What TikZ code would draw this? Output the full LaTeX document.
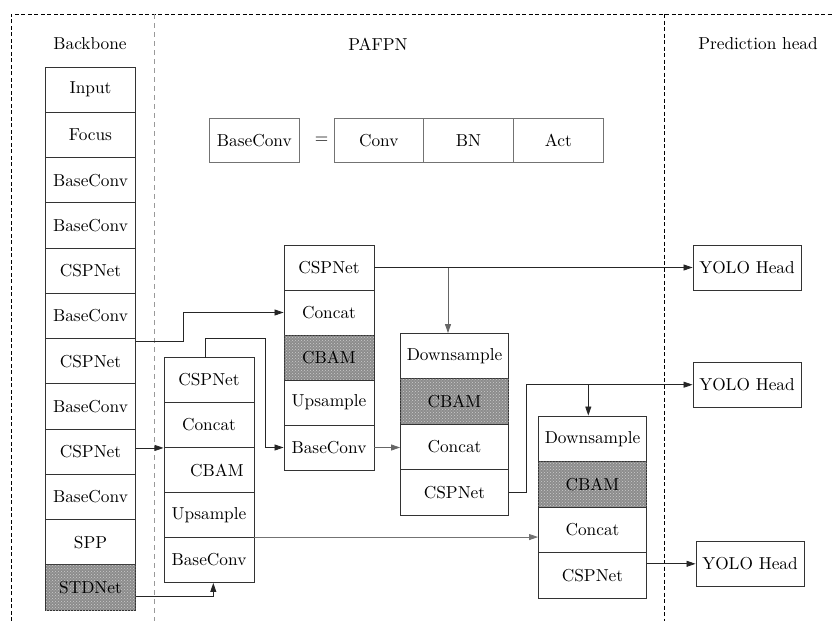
\documentclass[tikz,border=0pt]{standalone}
\usetikzlibrary{arrows.meta,patterns,calc}
% text face: the 10pt design of Latin Modern Roman, set large
\font\labelfont="[lmroman10-regular.otf]" at 17.3pt

\begin{document}
\begin{tikzpicture}[x=1pt,y=-1pt,
  font=\labelfont,
  cell/.style={draw=black!80, line width=0.9pt, inner sep=0pt, fill=white,
               minimum width=90pt, minimum height=45pt},
  wide/.style={minimum width=108pt},
  shade/.style={fill=black!45,
                postaction={pattern=crosshatch dots, pattern color=black!20}},
  head/.style={cell, minimum width=108pt, minimum height=45pt},
  formula/.style={cell, draw=black!55, minimum height=44.4pt},
  link/.style={draw=black!85, line width=0.8pt,
               -{Triangle[length=9pt,width=6pt]}},
  frame/.style={line width=0.8pt, dash pattern=on 4pt off 2.5pt},
  divider/.style={draw=black!40, line width=0.8pt, dash pattern=on 5pt off 4pt}]

\useasboundingbox (0,0) rectangle (833,621);

% section frames
\draw[frame] (11,621) -- (11,14) -- (833,14);
\draw[frame] (664,14) -- (664,621);
\draw[divider] (154,14) -- (154,621);

% section titles
\node (tb) at (90,44) {Backbone};
\node (tp) at (378,44) {PAFPN};
\node (th) at (758,44) {Prediction head};

% BaseConv definition
\node[formula] (bc) at (254.3,140.5) {BaseConv};
\node (eq) at (321.5,140.5) {=};
\node[formula, minimum width=89.7pt] (fc) at (378.8,140.5) {Conv};
\node[formula, minimum width=89.7pt] (fb) at (468.5,140.5) {BN};
\node[formula, minimum width=90pt] (fa) at (558.3,140.5) {Act};

% backbone stack
\foreach \t [count=\i] in {Input,Focus,BaseConv,BaseConv,CSPNet,BaseConv,
                           CSPNet,BaseConv,CSPNet,BaseConv,SPP}
  \node[cell, minimum height=45.25pt] (b\i) at (90.5,{67+45.25*(\i-0.5)}) {\t};
\node[cell, shade, minimum height=45.25pt] (b12) at (90.5,587.4) {STDNet};

% PAFPN stack 1
\node[cell] (p1) at (209,380) {CSPNet};
\node[cell] (p2) at (209,425) {Concat};
\node[cell] (p3) at (209,470) {\hspace*{16pt}CBAM};
\node[cell] (p4) at (209,515) {Upsample};
\node[cell] (p5) at (209,560) {BaseConv};

% PAFPN stack 2
\node[cell] (q1) at (329,267.5) {CSPNet};
\node[cell] (q2) at (329,312.5) {Concat};
\node[cell, shade] (q3) at (329,357.5) {CBAM};
\node[cell] (q4) at (329,402.5) {Upsample};
\node[cell] (q5) at (329,447.5) {BaseConv};

% PAFPN stack 3
\node[cell, wide, minimum height=45.4pt] (r1) at (454.5,356.2) {Downsample};
\node[cell, wide, minimum height=45.4pt, shade] (r2) at (454.5,401.6) {CBAM};
\node[cell, wide, minimum height=45.4pt] (r3) at (454.5,447) {Concat};
\node[cell, wide, minimum height=45.4pt] (r4) at (454.5,492.4) {CSPNet};

% PAFPN stack 4
\node[cell, wide, minimum height=45.5pt] (s1) at (592.5,438.75) {Downsample};
\node[cell, wide, minimum height=45.5pt, shade] (s2) at (592.5,484.25) {CBAM};
\node[cell, wide, minimum height=45.5pt] (s3) at (592.5,529.75) {Concat};
\node[cell, wide, minimum height=45.5pt] (s4) at (592.5,575.25) {CSPNet};

% prediction heads
\node[head] (h1) at (747,267.8) {YOLO Head};
\node[head] (h2) at (747,384.7) {YOLO Head};
\node[head] (h3) at (750,563.8) {YOLO Head};

% connectors
\coordinate (k1) at ($(b7.north east)+(0,3.5)$);
\draw[link] (k1) -- ++(47.5,0) |- (q2.west);

\coordinate (k2) at (205,357.5);
\draw[link] (k2) |- (265.7,338) |- (q5.west);

\draw[link] (p2.south -| b9.east) -- (p2.south west);

\coordinate (k4) at (135.5,596);
\draw[link] (k4) -| ($(p5.south)+(4.3,0)$);

\draw[link, draw=black!55] (p5.north east) -- (p5.north east -| s3.west);

\draw[link, draw=black!60] (q5.east) -- (q5.east -| r3.west);

\draw[link] (q1.east) -- (q1.east -| h1.west);
\coordinate (k7) at (448,267.5);
\draw[link, draw=black!60] (k7) -- (k7 |- r1.north);

\draw[link] (r4.east) -- ++(17.5,0) |- (h2.west);
\coordinate (k8) at (588.3,384.7);
\draw[link] (k8) -- (k8 |- s1.north);

\draw[link] (h3.west -| s4.east) -- (h3.west);

\end{tikzpicture}
\end{document}
